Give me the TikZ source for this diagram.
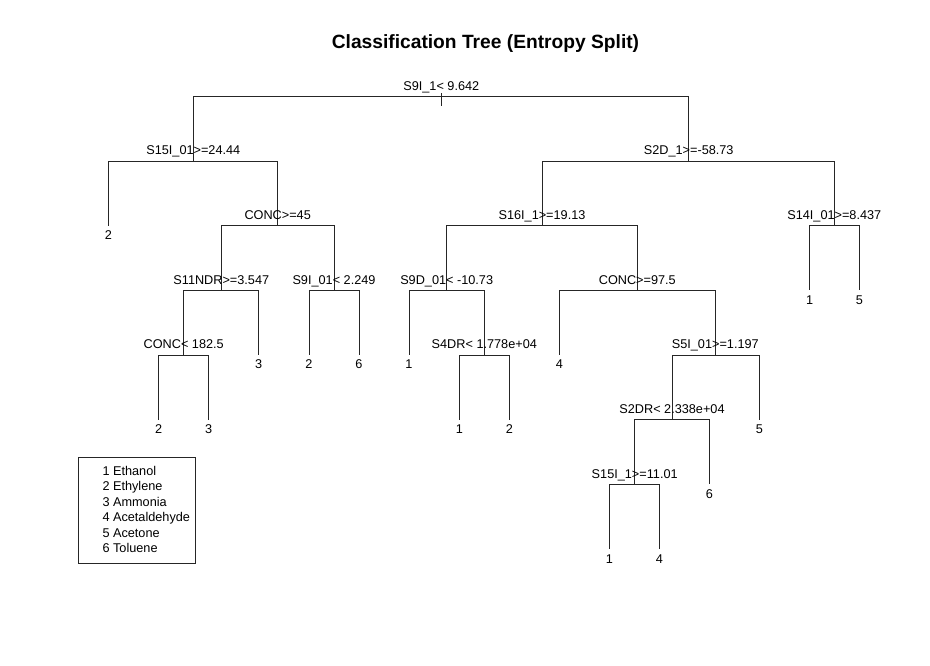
\documentclass[tikz,border=0pt]{standalone}
\usepackage{fontspec}
\setmainfont{Liberation Sans}
\usepackage{tikz}
\usetikzlibrary{positioning}

\tikzset{
  branch/.style={draw=black!85, line width=0.7pt},
  splitlab/.style={inner sep=0pt, anchor=base, font=\fontsize{12.7}{15}\selectfont},
  leaflab/.style={inner sep=0pt, anchor=base, font=\fontsize{12.7}{15}\selectfont},
  legtext/.style={inner sep=0pt, anchor=base west, font=\fontsize{12.7}{15}\selectfont},
}

\begin{document}
\begin{tikzpicture}[x=1pt,y=1pt]

  \useasboundingbox (0,0) rectangle (930,665);

  \node[inner sep=0pt, anchor=base, font=\fontsize{19.2}{22}\selectfont\bfseries] (title) at (485.5,616.7) {Classification Tree (Entropy Split)};

  % split points
  \coordinate (r0) at (441.3,568.3);
  \coordinate (s15) at (193.3,504);
  \coordinate (s2d) at (688.7,504);
  \coordinate (conc45) at (277.7,439.3);
  \coordinate (s11) at (221.3,374.7);
  \coordinate (s9i01) at (334,374.7);
  \coordinate (conc182) at (183.7,310);
  \coordinate (s16) at (542,439.3);
  \coordinate (s14) at (834.3,439.3);
  \coordinate (s9d) at (446.7,374.7);
  \coordinate (conc97) at (637.3,374.7);
  \coordinate (s4dr) at (484.3,310);
  \coordinate (s5i) at (715.3,310);
  \coordinate (s2dr) at (672,245.3);
  \coordinate (s15i1) at (634.7,180.7);

  % leaves
  \coordinate (a2) at (108.3,439.3);
  \coordinate (b3) at (258.7,310);
  \coordinate (c2) at (158.7,245.3);
  \coordinate (c3) at (208.7,245.3);
  \coordinate (d2) at (309,310);
  \coordinate (d6) at (359,310);
  \coordinate (e1) at (809.7,374.7);
  \coordinate (e5) at (859.3,374.7);
  \coordinate (f1) at (409,310);
  \coordinate (g1) at (459.3,245.3);
  \coordinate (g2) at (509.3,245.3);
  \coordinate (h4) at (559.3,310);
  \coordinate (i5) at (759.3,245.3);
  \coordinate (j6) at (709.3,180.7);
  \coordinate (k1) at (609.3,116);
  \coordinate (k4) at (659.3,116);

  % branches
  \draw[branch] ([yshift=3.5pt]r0) -- ([yshift=-9.5pt]r0);
  \draw[branch] (r0) -| (s15);
  \draw[branch] (r0) -| (s2d);
  \draw[branch] (s15) -| (a2);
  \draw[branch] (s15) -| (conc45);
  \draw[branch] (conc45) -| (s11);
  \draw[branch] (conc45) -| (s9i01);
  \draw[branch] (s11) -| (conc182);
  \draw[branch] (s11) -| (b3);
  \draw[branch] (conc182) -| (c2);
  \draw[branch] (conc182) -| (c3);
  \draw[branch] (s9i01) -| (d2);
  \draw[branch] (s9i01) -| (d6);
  \draw[branch] (s2d) -| (s16);
  \draw[branch] (s2d) -| (s14);
  \draw[branch] (s14) -| (e1);
  \draw[branch] (s14) -| (e5);
  \draw[branch] (s16) -| (s9d);
  \draw[branch] (s16) -| (conc97);
  \draw[branch] (s9d) -| (f1);
  \draw[branch] (s9d) -| (s4dr);
  \draw[branch] (s4dr) -| (g1);
  \draw[branch] (s4dr) -| (g2);
  \draw[branch] (conc97) -| (h4);
  \draw[branch] (conc97) -| (s5i);
  \draw[branch] (s5i) -| (s2dr);
  \draw[branch] (s5i) -| (i5);
  \draw[branch] (s2dr) -| (s15i1);
  \draw[branch] (s2dr) -| (j6);
  \draw[branch] (s15i1) -| (k1);
  \draw[branch] (s15i1) -| (k4);

  % split labels
  \node[splitlab] (t-r0) at ([yshift=6pt]r0) {S9I\_1< 9.642};
  \node[splitlab] (t-s15) at ([yshift=6pt]s15) {S15I\_01>=24.44};
  \node[splitlab] (t-s2d) at ([yshift=6pt]s2d) {S2D\_1>=-58.73};
  \node[splitlab] (t-conc45) at ([yshift=6pt]conc45) {CONC>=45};
  \node[splitlab] (t-s11) at ([yshift=6pt]s11) {S11NDR>=3.547};
  \node[splitlab] (t-s9i01) at ([yshift=6pt]s9i01) {S9I\_01< 2.249};
  \node[splitlab] (t-conc182) at ([yshift=6pt]conc182) {CONC< 182.5};
  \node[splitlab] (t-s16) at ([yshift=6pt]s16) {S16I\_1>=19.13};
  \node[splitlab] (t-s14) at ([yshift=6pt]s14) {S14I\_01>=8.437};
  \node[splitlab] (t-s9d) at ([yshift=6pt]s9d) {S9D\_01< -10.73};
  \node[splitlab] (t-conc97) at ([yshift=6pt]conc97) {CONC>=97.5};
  \node[splitlab] (t-s4dr) at ([yshift=6pt]s4dr) {S4DR< 1.778e+04};
  \node[splitlab] (t-s5i) at ([yshift=6pt]s5i) {S5I\_01>=1.197};
  \node[splitlab] (t-s2dr) at ([yshift=6pt]s2dr) {S2DR< 2.338e+04};
  \node[splitlab] (t-s15i1) at ([yshift=6pt]s15i1) {S15I\_1>=11.01};

  % leaf labels
  \node[leaflab] (t-a2) at ([yshift=-14pt]a2) {2};
  \node[leaflab] (t-b3) at ([yshift=-14pt]b3) {3};
  \node[leaflab] (t-c2) at ([yshift=-14pt]c2) {2};
  \node[leaflab] (t-c3) at ([yshift=-14pt]c3) {3};
  \node[leaflab] (t-d2) at ([yshift=-14pt]d2) {2};
  \node[leaflab] (t-d6) at ([yshift=-14pt]d6) {6};
  \node[leaflab] (t-e1) at ([yshift=-14pt]e1) {1};
  \node[leaflab] (t-e5) at ([yshift=-14pt]e5) {5};
  \node[leaflab] (t-f1) at ([yshift=-14pt]f1) {1};
  \node[leaflab] (t-g1) at ([yshift=-14pt]g1) {1};
  \node[leaflab] (t-g2) at ([yshift=-14pt]g2) {2};
  \node[leaflab] (t-h4) at ([yshift=-14pt]h4) {4};
  \node[leaflab] (t-i5) at ([yshift=-14pt]i5) {5};
  \node[leaflab] (t-j6) at ([yshift=-14pt]j6) {6};
  \node[leaflab] (t-k1) at ([yshift=-14pt]k1) {1};
  \node[leaflab] (t-k4) at ([yshift=-14pt]k4) {4};

  % legend
  \node[draw=black!85, line width=0.7pt, inner sep=0pt, minimum width=117pt, minimum height=106.3pt, anchor=north west] (legbox) at (78,208.3) {};
  \node[legtext] (leg1) at (102.3,189.5) {1 Ethanol};
  \node[legtext] (leg2) at (102.3,174.1) {2 Ethylene};
  \node[legtext] (leg3) at (102.3,158.7) {3 Ammonia};
  \node[legtext] (leg4) at (102.3,143.3) {4 Acetaldehyde};
  \node[legtext] (leg5) at (102.3,127.9) {5 Acetone};
  \node[legtext] (leg6) at (102.3,112.5) {6 Toluene};

\end{tikzpicture}
\end{document}
